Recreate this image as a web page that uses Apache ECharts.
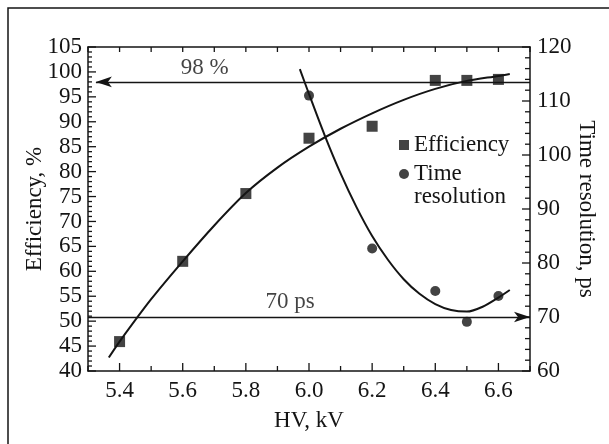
<!DOCTYPE html>
<html>
<head>
<meta charset="utf-8">
<script src="https://cdn.jsdelivr.net/npm/echarts@6.0.0/dist/echarts.min.js"></script>
<style>
html, body { margin: 0; padding: 0; background: #fff; }
#chart { width: 609px; height: 444px; }
</style>
</head>
<body>
<div id="chart"></div>
<script>
// measured points
const hv = [5.4, 5.6, 5.8, 6.0, 6.2, 6.4, 6.5, 6.6]
const efficiency = [45.9, 62.0, 75.6, 86.7, 89.1, 98.3, 98.3, 98.5]
const hvTime = [6.0, 6.2, 6.4, 6.5, 6.6]
const timeRes = [111.0, 82.7, 74.8, 69.1, 73.9]

// fitted curves
const effFitX = [5.366, 5.4, 5.5, 5.6, 5.7, 5.8, 5.9, 6.0, 6.1, 6.2, 6.3, 6.4, 6.5, 6.6, 6.636]
const effFitY = [42.7, 45.9, 54.4, 62.0, 69.2, 75.7, 80.8, 85.0, 88.6, 91.7, 94.4, 96.6, 98.2, 99.2, 99.6]
const timeFitX = [5.971, 6.0, 6.05, 6.1, 6.15, 6.2, 6.25, 6.3, 6.35, 6.4, 6.45, 6.5, 6.55, 6.6, 6.636]
const timeFitY = [115.9, 111.3, 103.6, 96.6, 90.4, 85.0, 80.6, 77.0, 74.3, 72.4, 71.3, 71.0, 71.9, 73.6, 75.0]

// axis ticks
const xTicks = [5.3, 5.4, 5.5, 5.6, 5.7, 5.8, 5.9, 6.0, 6.1, 6.2, 6.3, 6.4, 6.5, 6.6, 6.7]
const hvLabels = [5.4, 5.6, 5.8, 6.0, 6.2, 6.4, 6.6]
const effTicks = Array.from({ length: 66 }, (_, i) => 40 + i)   // 40..105, major every 5
const timeTicks = Array.from({ length: 31 }, (_, i) => 60 + 2 * i) // 60..120, major every 10

// reference levels
const effLevel = 98
const timeLevel = 70

const pair = (xs, ys) => xs.map((x, i) => [x, ys[i]])

const ink = '#141414'
const font = "'Liberation Serif', 'DejaVu Serif', serif"
const fs = 23
const xMin = 5.3, xMax = 6.7, effMin = 40, effMax = 105, timeMin = 60, timeMax = 120

const chart = echarts.init(document.getElementById('chart'), null, { renderer: 'canvas' })

const legendText = { fontFamily: font, fontSize: fs, lineHeight: 23, color: ink }
const tickLine = (x1, y1, x2, y2) => ({ type: 'line', shape: { x1, y1, x2, y2 }, style: { stroke: ink, lineWidth: 1.3 } })

// inward tick marks, placed through the axes' own scales
const tickSeries = (yAxisIndex, data, draw) => ({
	type: 'custom', coordinateSystem: 'cartesian2d', xAxisIndex: 0, yAxisIndex,
	silent: true, clip: false, z: 5, data,
	renderItem: (params, api) => draw(api)
})

const option = {
	backgroundColor: '#fff',
	animation: false,
	textStyle: { fontFamily: font, color: ink },
	grid: { left: 88, right: 79, top: 47, bottom: 73 },
	graphic: [{
		type: 'rect', shape: { x: 8, y: 8, width: 800, height: 600 },
		style: { fill: null, stroke: ink, lineWidth: 1.5 }, silent: true, z: -1
	}],
	legend: [{
		data: ['Efficiency'], orient: 'vertical', left: 399, top: 133.5, padding: 0,
		itemWidth: 10, itemHeight: 10, itemGap: 0,
		textStyle: legendText
	}, {
		data: ['Time resolution'], orient: 'vertical', left: 399, top: 139.5, padding: 0,
		itemWidth: 10, itemHeight: 10,
		formatter: () => ' \nTime\nresolution',
		textStyle: legendText
	}],
	xAxis: [{
		type: 'value', min: xMin, max: xMax, interval: 0.1, position: 'bottom',
		name: 'HV, kV', nameLocation: 'middle', nameGap: 38, nameMoveOverlap: false,
		nameTextStyle: { fontFamily: font, fontSize: fs, color: ink },
		splitLine: { show: false },
		axisLine: { show: true, onZero: false, lineStyle: { color: ink, width: 1.5 } },
		axisTick: { show: false },
		axisLabel: {
			fontFamily: font, fontSize: fs, color: ink, margin: 8,
			formatter: v => hvLabels.some(h => Math.abs(h - v) < 1e-6) ? v.toFixed(1) : ''
		}
	}, {
		type: 'value', min: xMin, max: xMax, interval: 0.1, position: 'top',
		splitLine: { show: false },
		axisLine: { show: true, onZero: false, lineStyle: { color: ink, width: 1.5 } },
		axisTick: { show: false },
		axisLabel: { show: false }
	}],
	yAxis: [{
		type: 'value', min: effMin, max: effMax, interval: 5, position: 'left',
		name: 'Efficiency, %', nameLocation: 'middle', nameGap: 42, nameRotate: 90, nameMoveOverlap: false,
		nameTextStyle: { fontFamily: font, fontSize: fs, color: ink },
		splitLine: { show: false },
		axisLine: { show: true, onZero: false, lineStyle: { color: ink, width: 1.5 } },
		axisTick: { show: false },
		axisLabel: { fontFamily: font, fontSize: fs, color: ink, margin: 6, hideOverlap: false }
	}, {
		type: 'value', min: timeMin, max: timeMax, interval: 10, position: 'right',
		name: 'Time resolution, ps', nameLocation: 'middle', nameGap: 45, nameRotate: -90, nameMoveOverlap: false,
		nameTextStyle: { fontFamily: font, fontSize: fs, color: ink },
		splitLine: { show: false },
		axisLine: { show: true, onZero: false, lineStyle: { color: ink, width: 1.5 } },
		axisTick: { show: false },
		axisLabel: { fontFamily: font, fontSize: fs, color: ink, margin: 7, hideOverlap: false }
	}],
	series: [{
		name: 'effFit', type: 'line', yAxisIndex: 0, smooth: 0.3, showSymbol: false, silent: true,
		data: pair(effFitX, effFitY),
		lineStyle: { color: ink, width: 2 }
	}, {
		name: 'timeFit', type: 'line', yAxisIndex: 1, smooth: 0.3, showSymbol: false, silent: true,
		data: pair(timeFitX, timeFitY),
		lineStyle: { color: ink, width: 2 }
	}, {
		name: 'Efficiency', type: 'scatter', yAxisIndex: 0, symbol: 'rect', symbolSize: 11,
		data: pair(hv, efficiency),
		itemStyle: { color: ink }
	}, {
		name: 'Time resolution', type: 'scatter', yAxisIndex: 1, symbol: 'circle', symbolSize: 10,
		data: pair(hvTime, timeRes),
		itemStyle: { color: ink }
	}, {
		name: 'effLevel', type: 'scatter', yAxisIndex: 0, symbolSize: 0, silent: true,
		data: [[5.67, effLevel]],
		label: { show: true, position: 'top', distance: 2, formatter: '98 %', fontFamily: font, fontSize: fs, color: ink },
		markLine: {
			silent: true, animation: false,
			lineStyle: { color: ink, width: 1.3, type: 'solid' },
			label: { show: false },
			data: [[
				{ coord: [xMax, effLevel], symbol: 'none' },
				{ coord: [5.325, effLevel], symbol: 'arrow', symbolSize: [8, 16] }
			]]
		}
	}, {
		name: 'timeLevel', type: 'scatter', yAxisIndex: 1, symbolSize: 0, silent: true,
		data: [[5.94, timeLevel]],
		label: { show: true, position: 'top', distance: 4, formatter: '70 ps', fontFamily: font, fontSize: fs, color: ink },
		markLine: {
			silent: true, animation: false,
			lineStyle: { color: ink, width: 1.3, type: 'solid' },
			label: { show: false },
			data: [[
				{ coord: [xMin, timeLevel], symbol: 'none' },
				{ coord: [xMax, timeLevel], symbol: 'arrow', symbolSize: [8, 16] }
			]]
		}
	},
	// bottom and top ticks
	tickSeries(0, xTicks.map(v => [v, effMin, hvLabels.some(h => Math.abs(h - v) < 1e-6) ? 8 : 5]), api => {
		const b = api.coord([api.value(0), effMin])
		const t = api.coord([api.value(0), effMax])
		return { type: 'group', children: [
			tickLine(b[0], b[1], b[0], b[1] - api.value(2)),
			tickLine(t[0], t[1], t[0], t[1] + 5)
		] }
	}),
	// left ticks
	tickSeries(0, effTicks.map(v => [xMin, v, v % 5 === 0 ? 8 : 4]), api => {
		const p = api.coord([xMin, api.value(1)])
		return tickLine(p[0], p[1], p[0] + api.value(2), p[1])
	}),
	// right ticks
	tickSeries(1, timeTicks.map(v => [xMax, v, v % 10 === 0 ? 8 : 5]), api => {
		const p = api.coord([xMax, api.value(1)])
		return tickLine(p[0], p[1], p[0] - api.value(2), p[1])
	})]
}

chart.setOption(option)
</script>
</body>
</html>
